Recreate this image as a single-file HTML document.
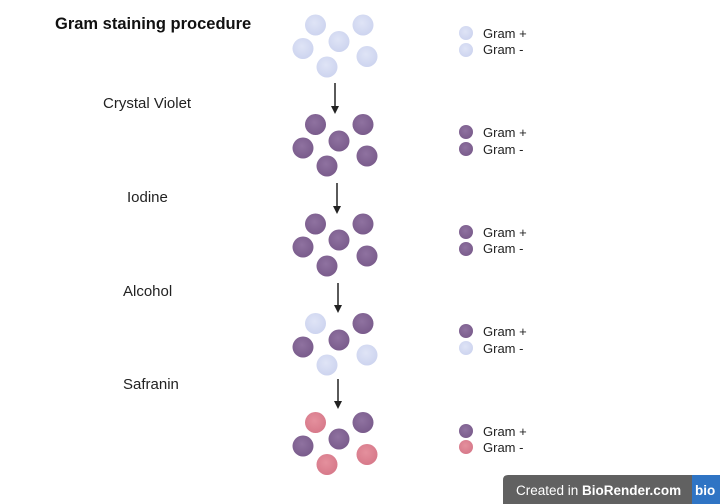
<!DOCTYPE html>
<html><head><meta charset="utf-8"><style>
html,body{margin:0;padding:0;background:#fff;}
svg{display:block;font-family:"Liberation Sans",sans-serif;}
</style></head><body>
<svg width="720" height="504" viewBox="0 0 720 504" xmlns="http://www.w3.org/2000/svg">
<defs>
<radialGradient id="L" cx="45%" cy="40%" r="60%"><stop offset="0" stop-color="#dfe4f6"/><stop offset="1" stop-color="#cdd4ef"/></radialGradient>
<radialGradient id="P" cx="45%" cy="40%" r="60%"><stop offset="0" stop-color="#8f72a0"/><stop offset="1" stop-color="#7a5c8c"/></radialGradient>
<radialGradient id="R" cx="45%" cy="40%" r="60%"><stop offset="0" stop-color="#e4909d"/><stop offset="1" stop-color="#d7798a"/></radialGradient>
</defs>
<text x="55" y="29" font-size="16.5" font-weight="bold" fill="#111">Gram staining procedure</text>
<g font-size="15" fill="#222">
<text x="103" y="108">Crystal Violet</text>
<text x="127" y="202">Iodine</text>
<text x="123" y="296">Alcohol</text>
<text x="123" y="389">Safranin</text>
</g>
<g stroke="#222" stroke-width="1.5">
<line x1="335" y1="83" x2="335" y2="107"/>
<line x1="337" y1="183" x2="337" y2="207"/>
<line x1="338" y1="283" x2="338" y2="306"/>
<line x1="338" y1="379" x2="338" y2="402"/>
</g>
<g fill="#222">
<polygon points="331,106 339,106 335,114"/>
<polygon points="333,206 341,206 337,214"/>
<polygon points="334,305 342,305 338,313"/>
<polygon points="334,401 342,401 338,409"/>
</g>
<g fill="url(#L)"><circle cx="315.5" cy="25" r="10.5"/><circle cx="363" cy="25" r="10.5"/><circle cx="303" cy="48.5" r="10.5"/><circle cx="339" cy="41.5" r="10.5"/><circle cx="367" cy="56.5" r="10.5"/><circle cx="327" cy="67" r="10.5"/></g>
<g fill="url(#P)"><circle cx="315.5" cy="124.5" r="10.5"/><circle cx="363" cy="124.5" r="10.5"/><circle cx="303" cy="148" r="10.5"/><circle cx="339" cy="141" r="10.5"/><circle cx="367" cy="156" r="10.5"/><circle cx="327" cy="166" r="10.5"/></g>
<g fill="url(#P)"><circle cx="315.5" cy="224" r="10.5"/><circle cx="363" cy="224" r="10.5"/><circle cx="303" cy="247" r="10.5"/><circle cx="339" cy="240" r="10.5"/><circle cx="367" cy="256" r="10.5"/><circle cx="327" cy="266" r="10.5"/></g>
<circle cx="315.5" cy="323.5" r="10.5" fill="url(#L)"/><circle cx="363" cy="323.5" r="10.5" fill="url(#P)"/><circle cx="303" cy="347" r="10.5" fill="url(#P)"/><circle cx="339" cy="340" r="10.5" fill="url(#P)"/><circle cx="367" cy="355" r="10.5" fill="url(#L)"/><circle cx="327" cy="365" r="10.5" fill="url(#L)"/>
<circle cx="315.5" cy="422.5" r="10.5" fill="url(#R)"/><circle cx="363" cy="422.5" r="10.5" fill="url(#P)"/><circle cx="303" cy="446" r="10.5" fill="url(#P)"/><circle cx="339" cy="439" r="10.5" fill="url(#P)"/><circle cx="367" cy="454.5" r="10.5" fill="url(#R)"/><circle cx="327" cy="464.5" r="10.5" fill="url(#R)"/>
<circle cx="466" cy="33" r="7" fill="url(#L)"/><circle cx="466" cy="50" r="7" fill="url(#L)"/>
<circle cx="466" cy="132" r="7" fill="url(#P)"/><circle cx="466" cy="149" r="7" fill="url(#P)"/>
<circle cx="466" cy="232" r="7" fill="url(#P)"/><circle cx="466" cy="249" r="7" fill="url(#P)"/>
<circle cx="466" cy="331" r="7" fill="url(#P)"/><circle cx="466" cy="348" r="7" fill="url(#L)"/>
<circle cx="466" cy="431" r="7" fill="url(#P)"/><circle cx="466" cy="447" r="7" fill="url(#R)"/>
<g font-size="13" fill="#222">
<text x="483" y="38">Gram +</text><text x="483" y="54">Gram -</text>
<text x="483" y="137">Gram +</text><text x="483" y="154">Gram -</text>
<text x="483" y="237">Gram +</text><text x="483" y="253">Gram -</text>
<text x="483" y="336">Gram +</text><text x="483" y="353">Gram -</text>
<text x="483" y="436">Gram +</text><text x="483" y="452">Gram -</text>
</g>
<path d="M508,475 H692 V504 H503 V480 Q503,475 508,475 z" fill="#616161"/>
<rect x="692" y="475" width="28" height="29" fill="#2f74c4"/>
<text x="516" y="495" font-size="13.5" fill="#fff">Created in <tspan font-weight="bold">BioRender.com</tspan></text>
<text x="695" y="495" font-size="13.5" font-weight="bold" fill="#fff">bio</text>
</svg>
</body></html>
